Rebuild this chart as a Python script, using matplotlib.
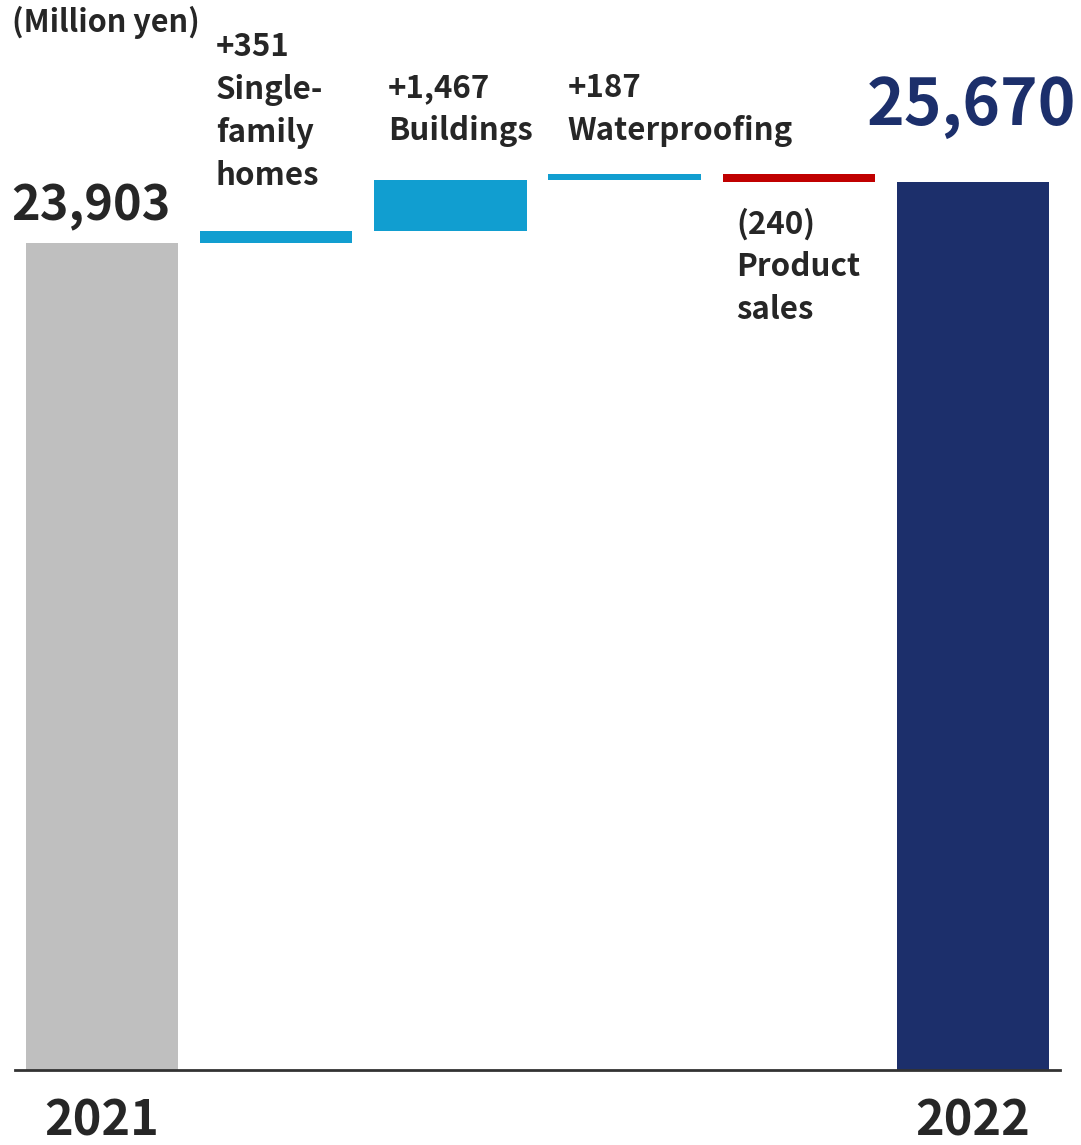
import numpy as np
import matplotlib.pyplot as plt

plt.rcParams['font.family'] = ['Noto Sans CJK JP', 'DejaVu Sans']
plt.rcParams['font.weight'] = 'bold'

# data (million yen)
years = ['2021', '2022']
start_value = 23903
end_value = 25670
segments = ['Single-\nfamily\nhomes', 'Buildings', 'Waterproofing', 'Product\nsales']
changes = [351, 1467, 187, -240]
change_labels = ['+351', '+1,467', '+187', '(240)']

gray = '#bfbfbf'
blue = '#119ed0'
red = '#c00000'
navy = '#1c2f6b'
txt = '#262626'

fig = plt.figure(figsize=(10.81, 11.45), dpi=100)
ax = fig.add_axes([15 / 1081, 75 / 1145, 1045 / 1081, 1070 / 1145])
ax.set_xlim(-0.5, 5.5)
ax.set_ylim(0, 30928)
px = 30928 / 1070  # data units per pixel
w = 0.875

ax.bar(0, start_value, width=w, color=gray)
bottoms = start_value + np.concatenate([[0], np.cumsum(changes)[:-1]])
for i, (b, c) in enumerate(zip(bottoms, changes)):
    ax.bar(i + 1, c, bottom=b, width=w, color=blue if c > 0 else red)
ax.bar(5, end_value, width=w, color=navy)

for s in ['top', 'right', 'left']:
    ax.spines[s].set_visible(False)
ax.spines['bottom'].set_color('#333333')
ax.spines['bottom'].set_linewidth(2)
ax.set_xticks([])
ax.set_yticks([])

# year labels
ax.text(0, -66 * px, years[0], ha='center', va='baseline', fontsize=35, color=txt)
ax.text(5, -66 * px, years[1], ha='center', va='baseline', fontsize=35, color=txt)

# totals
ax.text(-0.52, start_value + 23 * px, f'{start_value:,}', ha='left', va='baseline',
        fontsize=35, color=txt)
ax.text(4.39, end_value + 57 * px, f'{end_value:,}', ha='left', va='baseline',
        fontsize=46, color=navy)

fig.text(12 / 1081, 1 - 6 / 1145, '(Million yen)', ha='left', va='top', fontsize=22, color=txt)

# change labels
label_off = [(0.09, 'above', 200), (0.08, 'above', 108), (0.11, 'above', 102), (0.08, 'below', 26)]
for i, (lab, seg, c) in enumerate(zip(change_labels, segments, changes)):
    dx, where, off = label_off[i]
    x = i + 1 - w / 2 + dx
    if where == 'above':
        y = bottoms[i] + max(c, 0) + off * px
    else:
        y = bottoms[i] + c - off * px
    ax.text(x, y, lab + '\n' + seg, ha='left', va='top', fontsize=22.5, color=txt,
            linespacing=1.44)

fig.savefig('out.png', dpi=100)
